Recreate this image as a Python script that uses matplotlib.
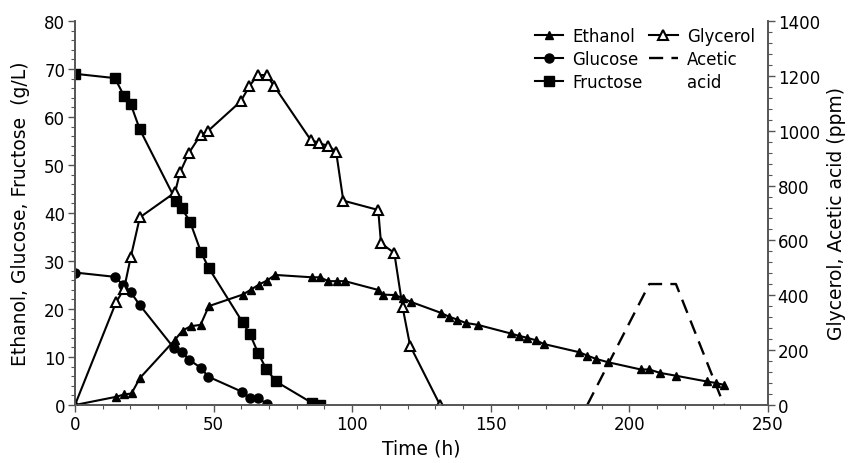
import numpy as np
import matplotlib.pyplot as plt
from matplotlib.lines import Line2D
from matplotlib.ticker import MultipleLocator

plt.rcParams['font.family'] = ['DejaVu Sans']

# ethanol (g/L)
eth_t = [0, 14.8, 17.7, 20.4, 23.4, 36.1, 38.8, 41.7, 45.3, 48.3, 60.5, 63.4, 66.4, 69.2, 72.2,
         85.6, 88.4, 91.4, 94.4, 97.4, 109.2, 111.0, 115.4, 118.2, 121.1, 132.0, 134.9, 137.9,
         140.9, 145.3, 157.2, 160.2, 163.2, 166.2, 169.2, 181.9, 184.8, 188.0, 192.4, 204.1,
         207.2, 211.0, 216.8, 227.9, 231.1, 234.1]
eth_v = [0, 1.7, 2.2, 2.4, 5.6, 13.6, 15.5, 16.4, 16.7, 20.6, 23.0, 24.0, 25.1, 25.9, 27.1,
         26.6, 26.6, 25.8, 25.8, 25.8, 24.0, 23.0, 22.9, 22.3, 21.5, 19.2, 18.4, 17.8,
         17.1, 16.7, 14.9, 14.4, 14.0, 13.5, 12.7, 11.0, 10.3, 9.6, 8.9, 7.4,
         7.4, 6.7, 6.1, 4.9, 4.6, 4.2]

# glucose (g/L)
glu_t = [0, 14.4, 17.2, 20.1, 23.4, 35.8, 38.5, 41.2, 45.3, 48.1, 60.1, 63.1, 66.1, 69.4]
glu_v = [27.6, 26.7, 25.1, 23.5, 20.8, 11.8, 11.1, 9.4, 7.8, 5.9, 2.8, 1.4, 1.4, 0.2]

# fructose (g/L)
fru_t = [0, 14.4, 17.7, 20.1, 23.4, 36.4, 38.5, 41.5, 45.5, 48.3, 60.5, 63.1, 66.1, 68.9,
         72.5, 85.6, 88.4]
fru_v = [69, 68.1, 64.4, 62.7, 57.4, 42.6, 41.0, 38.2, 31.8, 28.5, 17.2, 14.8, 10.8, 7.6,
         4.9, 0.4, 0]

# glycerol (ppm)
gly_t = [0, 14.8, 17.7, 20.1, 23.4, 36.1, 37.9, 41.1, 45.3, 48.1, 59.8, 62.9, 65.9, 69.1,
         71.9, 85.0, 88.0, 91.2, 94.2, 96.8, 109.4, 110.4, 115.2, 118.2, 120.9, 131.7]
gly_v = [0, 374, 423, 538, 684, 775, 848, 919, 984, 1000, 1107, 1162, 1203, 1203,
         1162, 967, 955, 945, 924, 745, 711, 590, 554, 356, 216, 0]

# acetic acid (ppm)
ace_t = [184.8, 207.2, 216.8, 234.1]
ace_v = [0, 441, 441, 0]

fig = plt.figure(figsize=(8.5, 4.64), dpi=100)
ax = fig.add_axes([0.0882, 0.125, 0.8153, 0.8276])
ax2 = ax.twinx()

lw = 1.5
l1, = ax.plot(eth_t, eth_v, color='black', lw=lw, marker='^', ms=5.5, label='Ethanol')
l2, = ax.plot(glu_t, glu_v, color='black', lw=lw, marker='o', ms=6.5, label='Glucose')
l3, = ax.plot(fru_t, fru_v, color='black', lw=lw, marker='s', ms=7, label='Fructose')
l4, = ax2.plot(gly_t, gly_v, color='black', lw=lw, marker='^', ms=7.5, mfc='white',
               mew=1.5, label='Glycerol')
l5, = ax2.plot(ace_t, ace_v, color='black', lw=1.7, dashes=(6, 3.5), label='Acetic')
blank = Line2D([], [], color='none', label='acid')

ax.set_xlim(0, 250)
ax.set_ylim(0, 80)
ax2.set_ylim(0, 1400)
ax.xaxis.set_major_locator(MultipleLocator(50))
ax.xaxis.set_minor_locator(MultipleLocator(10))
ax.yaxis.set_major_locator(MultipleLocator(10))
ax.yaxis.set_minor_locator(MultipleLocator(2))
ax2.yaxis.set_major_locator(MultipleLocator(200))
ax2.yaxis.set_minor_locator(MultipleLocator(40))

spine_c = '#555555'
for a in (ax, ax2):
    a.spines['top'].set_visible(False)
    for s in ('left', 'right', 'bottom'):
        a.spines[s].set_color(spine_c)
        a.spines[s].set_linewidth(1.2)
    a.tick_params(which='major', length=5, width=1, color=spine_c, labelsize=12, pad=2)
    a.tick_params(which='minor', length=3, width=0.8, color=spine_c)
    a.set_facecolor('none')

ax.set_xlabel('Time (h)', fontsize=13.5, labelpad=4)
ax.set_ylabel('Ethanol, Glucose, Fructose  (g/L)', fontsize=13.5, labelpad=10)
ax2.set_ylabel('Glycerol, Acetic acid (ppm)', fontsize=13.5, labelpad=5)

leg = ax.legend(handles=[l1, l2, l3, l4, l5, blank], ncol=2, loc='upper right',
                bbox_to_anchor=(0.981, 0.985), frameon=False, fontsize=12,
                handlelength=1.7, handletextpad=0.55, columnspacing=0.4,
                labelspacing=0.3, borderaxespad=0, borderpad=0)

fig.savefig('out.png', dpi=100)
